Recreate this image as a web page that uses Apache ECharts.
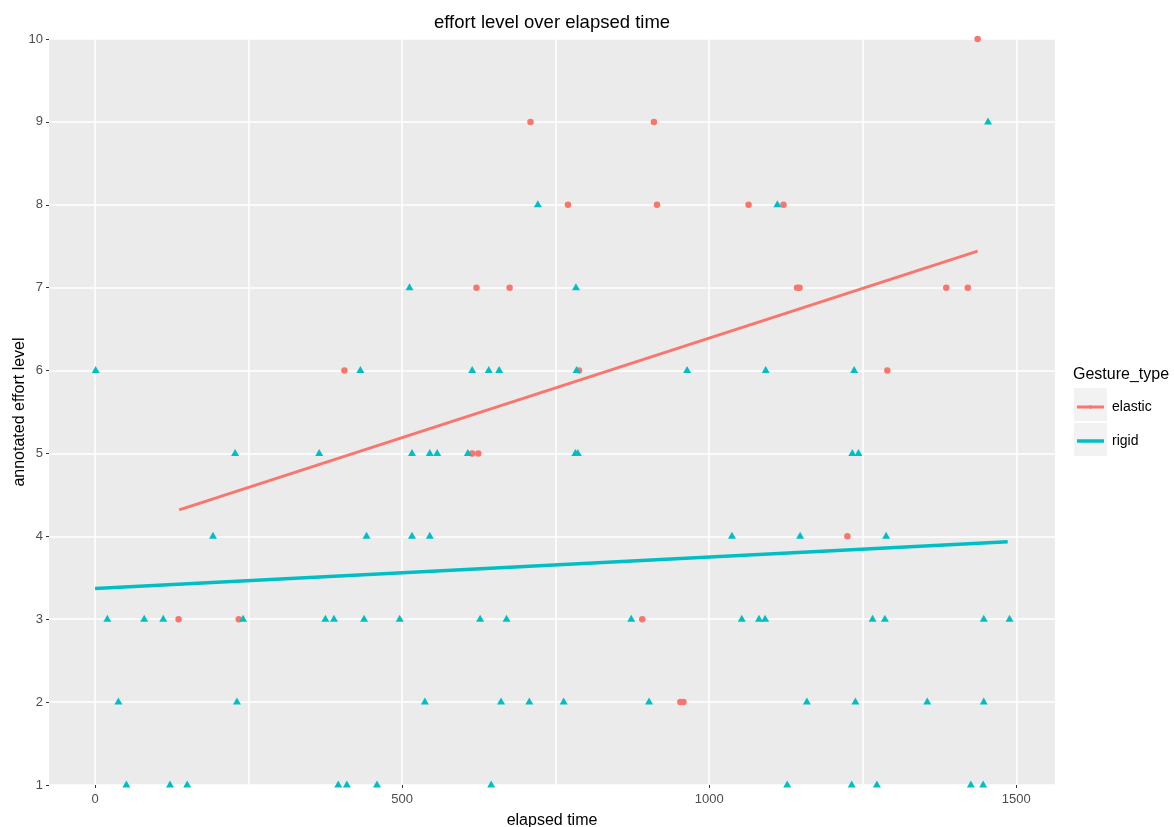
<!DOCTYPE html>
<html>
<head>
<meta charset="utf-8">
<script src="https://cdn.jsdelivr.net/npm/echarts@6/dist/echarts.min.js"></script>
<style>html,body{margin:0;padding:0;background:#fff}#c{width:1174px;height:827px}</style>
</head>
<body>
<div id="c"></div>
<script>
// ---- data ----
const seriesNames = ['elastic', 'rigid'];
const xTickLabels = [0, 500, 1000, 1500];
const xGridValues = [0, 250, 500, 750, 1000, 1250, 1500];

const elasticPoints = [
  [1437,10],
  [709,9],[910,9],
  [770,8],[915,8],[1064,8],[1121,8],
  [621,7],[675,7],[1143,7],[1147,7],[1386,7],[1421,7],
  [406,6],[788,6],[1290,6],
  [614,5],[624,5],
  [1225,4],
  [136,3],[234,3],[891,3],
  [953,2],[958,2]
];

const rigidPoints = [
  [1454,9],
  [721,8],[1111,8],
  [512,7],[783,7],
  [1,6],[432,6],[614,6],[641,6],[658,6],[784,6],[964,6],[1092,6],[1236,6],
  [228,5],[365,5],[516,5],[545,5],[557,5],[607,5],[782,5],[786,5],[1233,5],[1243,5],
  [192,4],[442,4],[516,4],[545,4],[1037,4],[1148,4],[1288,4],
  [20,3],[80,3],[111,3],[241,3],[375,3],[389,3],[438,3],[496,3],[627,3],[670,3],[873,3],[1053,3],[1081,3],[1091,3],[1266,3],[1286,3],[1447,3],[1489,3],
  [38,2],[231,2],[537,2],[661,2],[707,2],[763,2],[902,2],[1159,2],[1238,2],[1355,2],[1447,2],
  [51,1],[122,1],[150,1],[396,1],[410,1],[459,1],[645,1],[1127,1],[1232,1],[1273,1],[1426,1],[1446,1]
];

const elasticFit = [[137,4.32],[1437,7.44]];
const rigidFit = [[0,3.37],[1486,3.935]];

// ---- chart ----
const FONT = 'Liberation Sans, Arial, sans-serif';
const RED = '#F8766D', CYAN = '#00BFC4';
const chart = echarts.init(document.getElementById('c'), null, {renderer: 'canvas'});

chart.setOption({
  animation: false,
  backgroundColor: '#ffffff',
  textStyle: {fontFamily: FONT},
  title: [
    {text: 'effort level over elapsed time', left: 552, top: 13, textAlign: 'center', padding: 0,
     textStyle: {fontFamily: FONT, fontSize: 18.5, fontWeight: 'normal', color: '#000'}},
    {text: 'Gesture_type', left: 1073, top: 367, padding: 0,
     textStyle: {fontFamily: FONT, fontSize: 16, fontWeight: 'normal', color: '#000'}}
  ],
  grid: {left: 49, right: 119, top: 39, bottom: 42, containLabel: false, outerBoundsMode: 'none',
         show: true, backgroundColor: '#EBEBEB', borderWidth: 0},
  xAxis: {
    type: 'value', min: -75, max: 1563,
    name: 'elapsed time', nameLocation: 'middle', nameGap: 28, nameMoveOverlap: false,
    nameTextStyle: {fontFamily: FONT, fontSize: 16, color: '#000'},
    axisLine: {show: false, onZero: false},
    axisTick: {show: true, length: 3, customValues: xTickLabels, lineStyle: {color: '#333', width: 1}},
    axisLabel: {customValues: xTickLabels, margin: 8, fontFamily: FONT, fontSize: 13, color: '#4D4D4D',
                formatter: v => String(v)},
    splitLine: {show: false}
  },
  yAxis: {
    type: 'value', min: 1, max: 10, interval: 1,
    name: 'annotated effort level', nameLocation: 'middle', nameGap: 21, nameMoveOverlap: false,
    nameTextStyle: {fontFamily: FONT, fontSize: 16, color: '#000'},
    axisLine: {show: false, onZero: false},
    axisTick: {show: true, length: 3, lineStyle: {color: '#333', width: 1}},
    axisLabel: {margin: 6, fontFamily: FONT, fontSize: 13, color: '#4D4D4D', formatter: v => String(v)},
    splitLine: {show: true, lineStyle: {color: '#FFFFFF', width: 1.5}}
  },
  legend: {
    orient: 'vertical', left: 1077, top: 400, padding: 0,
    itemWidth: 27, itemHeight: 14, itemGap: 20, selectedMode: false,
    textStyle: {fontFamily: FONT, fontSize: 14, color: '#000', lineHeight: 14, padding: [0,0,0,3]},
    data: [
      {name: seriesNames[0], icon: 'path://M0,2.5H27V5.5H0Z M11.5,4A2,2 0 1 1 15.5,4A2,2 0 1 1 11.5,4Z', itemStyle: {color: RED}},
      {name: seriesNames[1], icon: 'path://M0,0H27V3.5H0Z', itemStyle: {color: CYAN}}
    ]
  },
  graphic: [
    {type: 'rect', left: 1074, top: 388, z: 0, shape: {width: 33, height: 33}, style: {fill: '#F2F2F2'}},
    {type: 'rect', left: 1074, top: 423, z: 0, shape: {width: 33, height: 33}, style: {fill: '#F2F2F2'}}
  ],
  series: [
    {
      name: 'xgrid', type: 'scatter', data: [], z: 1, silent: true,
      markLine: {
        silent: true, symbol: 'none', animation: false, z: 1,
        label: {show: false},
        lineStyle: {color: '#FFFFFF', width: 1.5, type: 'solid'},
        emphasis: {disabled: true},
        data: xGridValues.map(v => ({xAxis: v}))
      }
    },
    {
      name: seriesNames[0], type: 'scatter', data: elasticPoints, z: 3,
      symbol: 'circle', symbolSize: 6.5,
      itemStyle: {color: RED, opacity: 1}
    },
    {
      name: seriesNames[1], type: 'scatter', data: rigidPoints, z: 3,
      symbol: 'triangle', symbolSize: [8, 7], symbolOffset: [0, -1],
      itemStyle: {color: CYAN, opacity: 1}
    },
    {
      name: seriesNames[0], type: 'line', data: elasticFit, z: 4,
      symbol: 'none', showSymbol: false,
      lineStyle: {color: RED, width: 3}, itemStyle: {color: RED}
    },
    {
      name: seriesNames[1], type: 'line', data: rigidFit, z: 4,
      symbol: 'none', showSymbol: false,
      lineStyle: {color: CYAN, width: 3.5}, itemStyle: {color: CYAN}
    }
  ]
});
</script>
</body>
</html>
